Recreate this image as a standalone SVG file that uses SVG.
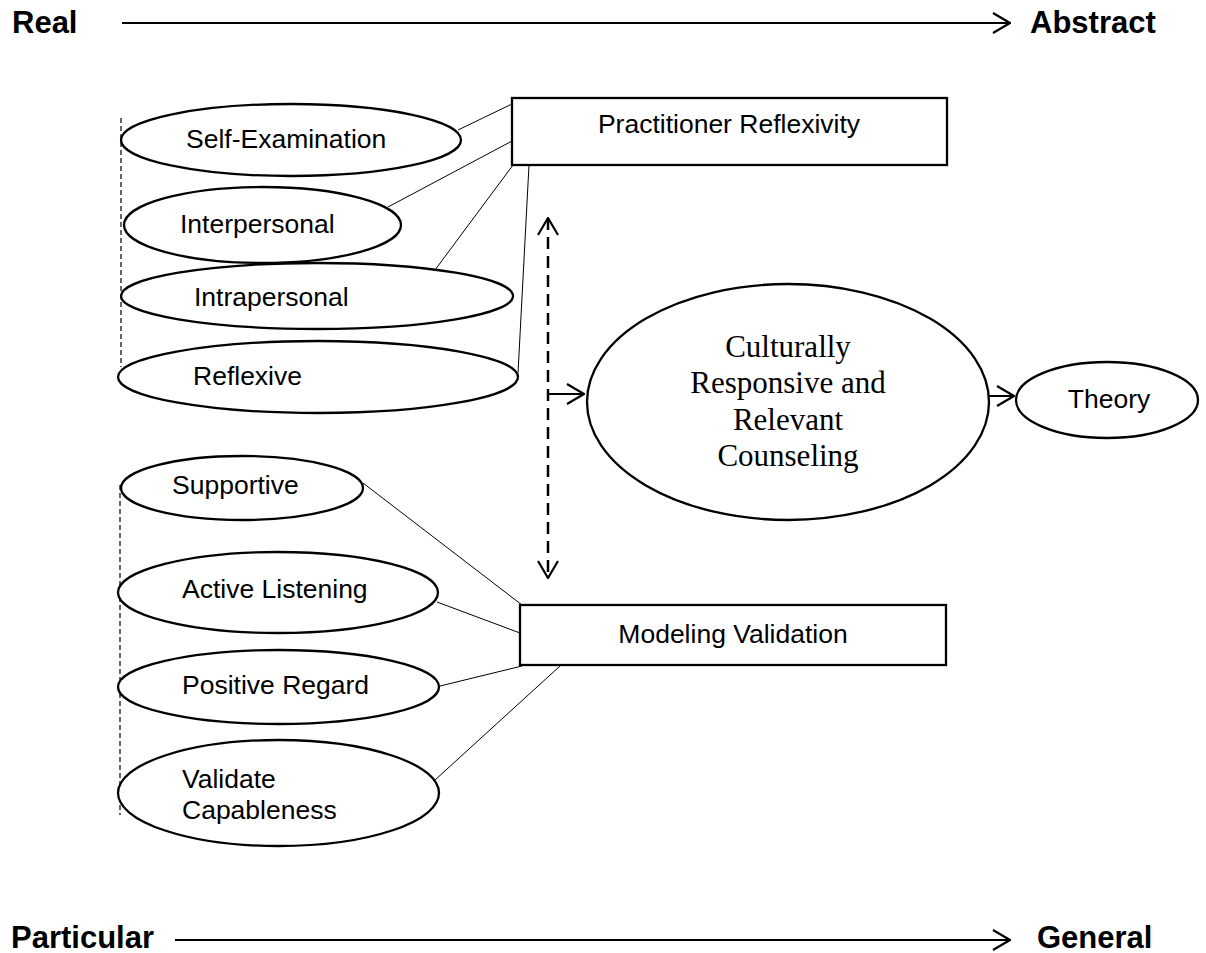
<svg xmlns="http://www.w3.org/2000/svg" width="1206" height="953" viewBox="0 0 1206 953">
  <style>
    .axis { font-family: "Liberation Sans", Arial, sans-serif; font-weight: bold; font-size: 31px; fill: #000; }
    .lbl { font-family: "Liberation Sans", Arial, sans-serif; font-size: 26.5px; fill: #000; }
    .serif { font-family: "Liberation Serif", "Times New Roman", serif; font-size: 31px; fill: #000; }
    .shape { fill: #fff; stroke: #000; stroke-width: 2.3; }
    .link { stroke: #000; stroke-width: 1; fill: none; }
    .guide { stroke: #000; stroke-width: 1.2; stroke-dasharray: 5 3; fill: none; }
    .axisline { stroke: #000; stroke-width: 2; fill: none; marker-end: url(#chev); }
    .flow { stroke: #000; stroke-width: 2; fill: none; marker-end: url(#chev); }
    .both { stroke: #000; stroke-width: 2.5; stroke-dasharray: 12 7; fill: none; marker-start: url(#chev); marker-end: url(#chev); }
  </style>
  <defs>
    <marker id="chev" viewBox="0 0 19 22" refX="18" refY="11" markerWidth="19" markerHeight="22" markerUnits="userSpaceOnUse" orient="auto-start-reverse">
      <path d="M1,1 L18,11 L1,21" fill="none" stroke="#000" stroke-width="2.2" stroke-dasharray="none"/>
    </marker>
  </defs>
  <rect width="1206" height="953" fill="#fff"/>

  <!-- axes -->
  <g id="axis-top">
    <text class="axis" x="12" y="33">Real</text>
    <line class="axisline" x1="122" y1="23" x2="1010" y2="23"/>
    <text class="axis" x="1030" y="33">Abstract</text>
  </g>
  <g id="axis-bottom">
    <text class="axis" x="11" y="948">Particular</text>
    <line class="axisline" x1="175" y1="940" x2="1010" y2="940"/>
    <text class="axis" x="1037" y="948">General</text>
  </g>

  <!-- dashed guides at the left of each cluster -->
  <line class="guide" x1="121" y1="118" x2="121" y2="367"/>
  <line class="guide" x1="120" y1="485" x2="120" y2="815"/>

  <!-- connectors -->
  <g id="connectors">
    <line class="link" x1="458" y1="130" x2="512" y2="104"/>
    <line class="link" x1="388" y1="207" x2="512" y2="141"/>
    <line class="link" x1="435" y1="270" x2="513" y2="165"/>
    <line class="link" x1="518" y1="373" x2="529" y2="165"/>
    <line class="link" x1="363" y1="483" x2="522" y2="605"/>
    <line class="link" x1="437" y1="602" x2="520" y2="633"/>
    <line class="link" x1="440" y1="686" x2="522" y2="666"/>
    <line class="link" x1="435" y1="780" x2="560" y2="666"/>
    <line class="both" x1="548" y1="218" x2="548" y2="578"/>
    <line class="flow" x1="548" y1="394" x2="584" y2="394"/>
    <line class="flow" x1="989" y1="396" x2="1014" y2="396"/>
  </g>

  <!-- reflexivity cluster -->
  <g id="self-examination">
    <ellipse class="shape" cx="291" cy="140" rx="170" ry="36"/>
    <text class="lbl" x="186" y="148">Self-Examination</text>
  </g>
  <g id="interpersonal">
    <ellipse class="shape" cx="262.5" cy="225" rx="138.5" ry="38"/>
    <text class="lbl" x="180" y="233">Interpersonal</text>
  </g>
  <g id="intrapersonal">
    <ellipse class="shape" cx="317" cy="296" rx="196" ry="33"/>
    <text class="lbl" x="194" y="306">Intrapersonal</text>
  </g>
  <g id="reflexive">
    <ellipse class="shape" cx="318" cy="377" rx="200" ry="36"/>
    <text class="lbl" x="193" y="385">Reflexive</text>
  </g>
  <g id="practitioner-reflexivity">
    <rect class="shape" x="512" y="98" width="435" height="67"/>
    <text class="lbl" x="729" y="133" text-anchor="middle">Practitioner Reflexivity</text>
  </g>

  <!-- validation cluster -->
  <g id="supportive">
    <ellipse class="shape" cx="242" cy="488" rx="121" ry="32"/>
    <text class="lbl" x="172" y="494">Supportive</text>
  </g>
  <g id="active-listening">
    <ellipse class="shape" cx="278" cy="592.5" rx="160" ry="40.5"/>
    <text class="lbl" x="182" y="598">Active Listening</text>
  </g>
  <g id="positive-regard">
    <ellipse class="shape" cx="278.5" cy="687" rx="160.5" ry="37"/>
    <text class="lbl" x="182" y="694">Positive Regard</text>
  </g>
  <g id="validate-capableness">
    <ellipse class="shape" cx="278.5" cy="793" rx="160.5" ry="53"/>
    <text class="lbl" x="182" y="788">Validate</text>
    <text class="lbl" x="182" y="819">Capableness</text>
  </g>
  <g id="modeling-validation">
    <rect class="shape" x="520" y="605" width="426" height="60"/>
    <text class="lbl" x="733" y="643" text-anchor="middle">Modeling Validation</text>
  </g>

  <!-- outcome -->
  <g id="crrc">
    <ellipse class="shape" cx="788" cy="402" rx="201" ry="118"/>
    <text class="serif" x="788" y="357" text-anchor="middle">Culturally</text>
    <text class="serif" x="788" y="393" text-anchor="middle">Responsive and</text>
    <text class="serif" x="788" y="430" text-anchor="middle">Relevant</text>
    <text class="serif" x="788" y="466" text-anchor="middle">Counseling</text>
  </g>
  <g id="theory">
    <ellipse class="shape" cx="1107" cy="400" rx="91" ry="38"/>
    <text class="lbl" x="1109" y="408" text-anchor="middle">Theory</text>
  </g>
</svg>
